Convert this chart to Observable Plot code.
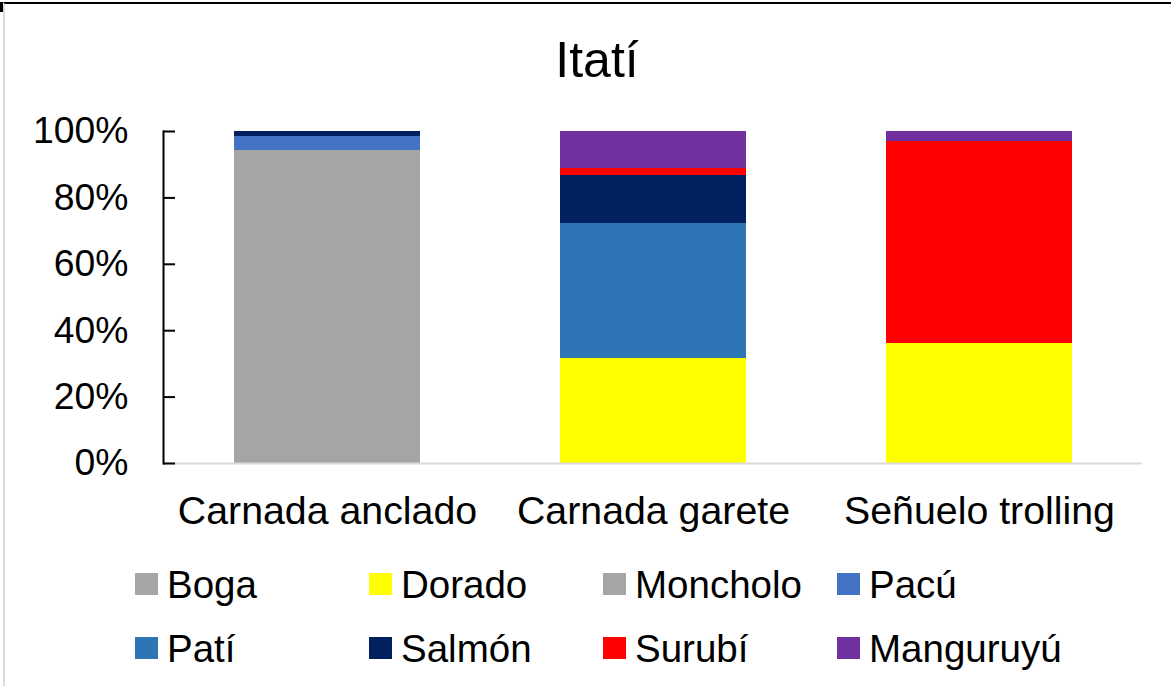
<!DOCTYPE html>
<html>
<head>
<meta charset="utf-8">
<script src="https://cdn.jsdelivr.net/npm/d3@7"></script>
<script src="https://cdn.jsdelivr.net/npm/@observablehq/plot@0.6"></script>
<style>
  html, body { margin: 0; padding: 0; background: #fff; }
  #page { position: relative; width: 1171px; height: 686px; overflow: hidden; font-family: "Liberation Sans", Arial, sans-serif; }
  #frame { position: absolute; left: 3px; top: 2px; right: 0; bottom: 0; border-top: 2px solid #000; border-left: 2px solid #d9d9d9; }
  #stub { position: absolute; left: 0; top: 2px; width: 3px; height: 10px; background: #000; }
  #title { position: absolute; left: 0; top: 0; width: 1194px; height: 110px; text-align: center; font-size: 50px; line-height: 1; padding-top: 35px; box-sizing: border-box; color: #000; }
  #chart { position: absolute; left: 0; top: 110px; }
  #legend { position: absolute; left: 135px; top: 566px; width: 960px; display: flex; flex-wrap: wrap; }
  .item { width: 234px; height: 64px; display: flex; align-items: flex-start; font-size: 38.5px; line-height: 1; color: #000; }
  .sw { width: 23px; height: 22px; margin-top: 7px; margin-right: 9px; flex: none; }
</style>
</head>
<body>
<div id="page">
  <div id="frame"></div>
  <div id="stub"></div>
  <div id="title"></div>
  <div id="chart"></div>
  <div id="legend"></div>
</div>
<script>
const title = "Itatí";
const categories = ["Carnada anclado", "Carnada garete", "Señuelo trolling"];
const species = ["Boga", "Dorado", "Moncholo", "Pacú", "Patí", "Salmón", "Surubí", "Manguruyú"];
const colors = ["#a5a5a5", "#ffff00", "#a5a5a5", "#4472c4", "#2e75b6", "#002060", "#ff0000", "#7030a0"];
// percentage of catch per species, for each category (in order of categories)
const boga      = [91.0, 0, 0];
const dorado    = [0, 31.6, 36.0];
const moncholo  = [3.4, 0, 0];
const pacu      = [4.2, 0, 0];
const pati      = [0, 40.8, 0];
const salmon    = [1.4, 14.3, 0];
const surubi    = [0, 2.3, 61.1];
const manguruyu = [0, 11.0, 2.9];
const yTicks = [0, 0.2, 0.4, 0.6, 0.8, 1.0];

const seriesValues = [boga, dorado, moncholo, pacu, pati, salmon, surubi, manguruyu];
const data = [];
species.forEach((s, i) => {
  categories.forEach((c, j) => {
    data.push({category: c, species: s, share: seriesValues[i][j] / 100});
  });
});

document.getElementById("title").textContent = title;

const W = 1171, H = 435;
const mL = 163, mR = 29, mT = 21, mB = 82;

const chart = Plot.plot({
  width: W,
  height: H,
  marginLeft: mL,
  marginRight: mR,
  marginTop: mT,
  marginBottom: mB,
  style: {fontFamily: "'Liberation Sans', Arial, sans-serif", fontSize: "37px", color: "#000", background: "transparent"},
  x: {domain: categories, paddingInner: 0.43, paddingOuter: 0.215, label: null},
  y: {domain: [0, 1], label: null},
  color: {domain: species, range: colors},
  marks: [
    Plot.barY(data, {x: "category", y: "share", fill: "species", order: null, z: "species", shapeRendering: "crispEdges"}),
    Plot.ruleY([0], {stroke: "#d9d9d9", strokeWidth: 2}),
    Plot.frame({anchor: "left", stroke: "#000", strokeWidth: 2}),
    Plot.tickY(yTicks, {y: d => d, stroke: "#000", strokeWidth: 2, insetRight: W - mL - mR - 12}),
    Plot.axisY({ticks: yTicks, tickSize: 0, tickPadding: 35, tickFormat: d3.format(".0%"), fontSize: 37.3, label: null}),
    Plot.axisX({tickSize: 0, tickPadding: 33, fontSize: 39.3, label: null})
  ]
});
document.getElementById("chart").appendChild(chart);

const legend = document.getElementById("legend");
species.forEach((s, i) => {
  const item = document.createElement("div");
  item.className = "item";
  const sw = document.createElement("span");
  sw.className = "sw";
  sw.style.background = colors[i];
  const label = document.createElement("span");
  label.textContent = s;
  item.appendChild(sw);
  item.appendChild(label);
  legend.appendChild(item);
});
</script>
</body>
</html>
